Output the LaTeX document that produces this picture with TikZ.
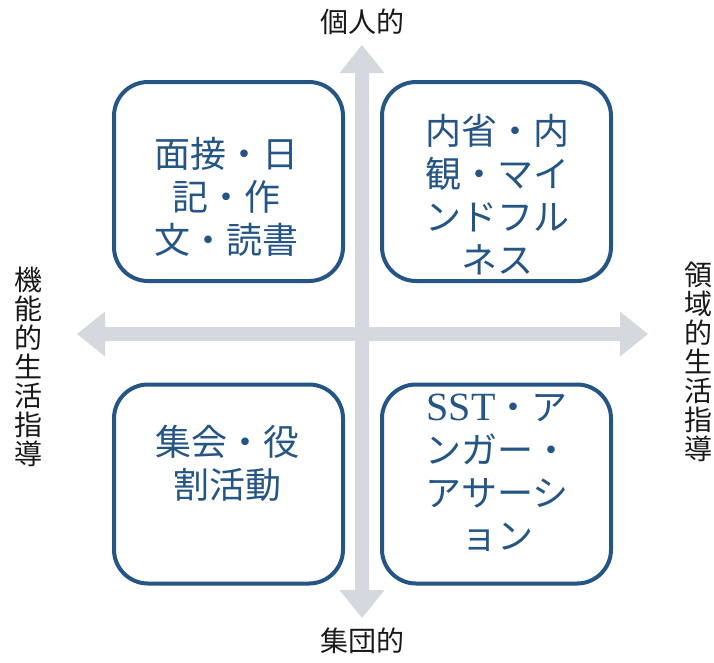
\documentclass[tikz,border=0pt]{standalone}
\usepackage{fontspec}
\newfontfamily\jp{Noto Sans CJK JP}
\newfontfamily\latinserif{Liberation Serif}
\definecolor{boxblue}{HTML}{255585}
\definecolor{arrowgray}{HTML}{D5D8DF}
\tikzset{
  quadbox/.style={draw=boxblue, line width=4pt, rounded corners=34pt, fill=white,
    minimum width=229pt, minimum height=199pt, inner sep=0pt},
  quadtext/.style={align=center, text=boxblue, inner sep=0pt,
    font=\jp\fontsize{36}{43}\selectfont},
  axislabel/.style={inner sep=0pt, text=black!90, font=\jp\fontsize{28}{29}\selectfont},
  vlabel/.style={axislabel, align=center},
  axisarrow/.style={fill=arrowgray, draw=none}
}
\begin{document}
\begin{tikzpicture}[x=1pt,y=-1pt]
\useasboundingbox (0,0) rectangle (714,662);
% horizontal axis
\fill[axisarrow] (77,334) -- (105,311.5) -- (105,327) -- (620,327) -- (620,311.5) -- (648,334)
  -- (620,356.5) -- (620,341) -- (105,341) -- (105,356.5) -- cycle;
% vertical axis
\fill[axisarrow] (362,45) -- (384.5,73) -- (369,73) -- (369,590) -- (384.5,590) -- (362,618)
  -- (339.5,590) -- (355,590) -- (355,73) -- (339.5,73) -- cycle;
% boxes
\node[quadbox] (tl) at (228.5,181.5) {};
\node[quadbox] (tr) at (496.5,181.5) {};
\node[quadbox] (bl) at (228.5,484) {};
\node[quadbox] (br) at (496.5,484) {};
% texts
\node[quadtext] (tlt) at (226,197) {面接・日\\記・作\\文・読書};
\node[quadtext] (trt) at (497,195) {内省・内\\観・マイ\\ンドフル\\ネス};
\node[quadtext] (blt) at (227,463) {集会・役\\割活動};
\node[quadtext] (brt) at (497,473) {{\latinserif\fontsize{40}{43}\selectfont SST}・ア\\ンガー・\\アサーシ\\ョン};
% axis labels
\node[axislabel] (top) at (362,22) {個人的};
\node[axislabel] (bottom) at (362,641) {集団的};
\node[vlabel] (left) at (28,367) {機\\能\\的\\生\\活\\指\\導};
\node[vlabel] (right) at (698,362) {領\\域\\的\\生\\活\\指\\導};
\end{tikzpicture}
\end{document}
